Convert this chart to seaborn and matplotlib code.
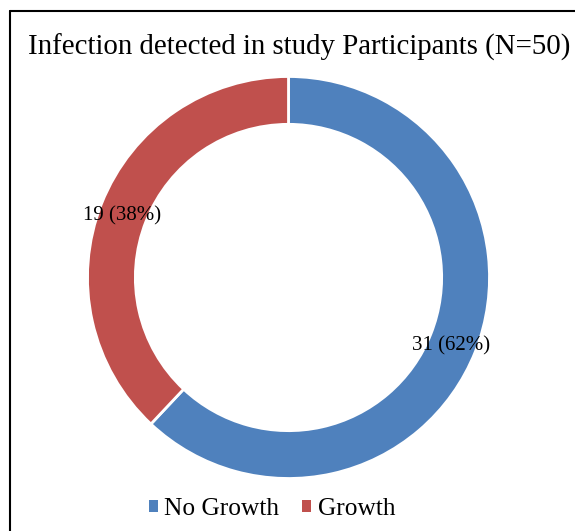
import matplotlib
matplotlib.use("Agg")
import matplotlib.pyplot as plt
from matplotlib.lines import Line2D
from matplotlib.patches import Patch
from matplotlib import transforms
import seaborn as sns

sns.set_theme(style="white")
plt.rcParams['font.family'] = ['Liberation Serif', 'DejaVu Serif']
plt.rcParams['text.color'] = 'black'

categories = ["No Growth", "Growth"]
counts = [31, 19]
colors = ["#4F81BD", "#C0504D"]
title = "Infection detected in study Participants (N=50)"

W, H = 575, 531
fig = plt.figure(figsize=(W / 100, H / 100), dpi=100)

cx, cy, R = 288.5, H - 277.5, 201.0
half = 215.0
ax = fig.add_axes([(cx - half) / W, (cy - half) / H, 2 * half / W, 2 * half / H])

total = sum(counts)
wedges, texts, autotexts = ax.pie(
    counts, colors=colors, startangle=90, counterclock=False, radius=1.0,
    wedgeprops=dict(width=0.238, edgecolor="white", linewidth=2),
    autopct=lambda p: f"{round(p * total / 100)} ({p:.0f}%)",
    pctdistance=0.88, textprops=dict(fontsize=15, color="black"),
)
lim = half / R
ax.set_xlim(-lim, lim)
ax.set_ylim(-lim, lim)
ax.set_aspect("equal")
ax.axis("off")
for t in autotexts:
    t.set_transform(transforms.offset_copy(ax.transData, fig=fig, x=-2, y=-3, units="dots"))

fig.text(299 / W, 1 - 47 / H, title, ha="center", va="center", fontsize=20.8)

handles = [Patch(facecolor=c, edgecolor="none") for c in colors]
fig.legend(handles, categories, loc="center", bbox_to_anchor=(272 / W, 1 - 509 / H),
           ncol=2, frameon=False, fontsize=18.3, handlelength=0.36, handleheight=0.36,
           handletextpad=0.25, columnspacing=0.9, labelcolor="black")

fig.add_artist(Line2D([10 / W, 1], [1 - 11 / H, 1 - 11 / H], transform=fig.transFigure,
                      color="black", linewidth=1.5))
fig.add_artist(Line2D([10 / W, 10 / W], [0, 1 - 11 / H], transform=fig.transFigure,
                      color="black", linewidth=1.5))

fig.savefig("out.png", dpi=100, facecolor="white")
